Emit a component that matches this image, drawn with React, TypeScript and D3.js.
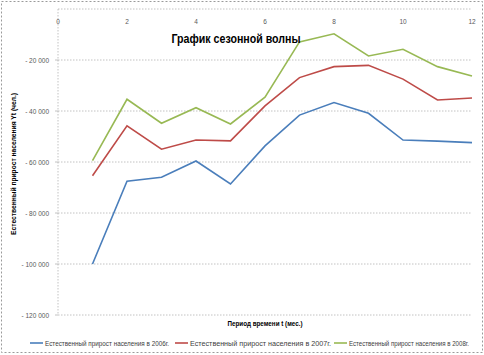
import React from "react";
import * as d3 from "d3";

const months = [1, 2, 3, 4, 5, 6, 7, 8, 9, 10, 11, 12];
const s2006 = [-100000, -67500, -66000, -59600, -68600, -53700, -41600, -36700, -40900, -51400, -51800, -52400];
const s2007 = [-65400, -45800, -55000, -51400, -51700, -38000, -26900, -22600, -22100, -27500, -35700, -34900];
const s2008 = [-59500, -35400, -44800, -38700, -45100, -34600, -12900, -9700, -18400, -15800, -22600, -26300];
const xTicks = [0, 2, 4, 6, 8, 10, 12];
const yTicks = [0, -20000, -40000, -60000, -80000, -100000, -120000];
const seriesNames = [
  "Естественный прирост населения в 2006г.",
  "Естественный прирост населения в 2007г.",
  "Естественный прирост населения в 2008г.",
];
const colors = ["#4A7EBB", "#BE4B48", "#98B954"];

const W = 484;
const H = 355;

export default function App() {
  const x = d3.scaleLinear().domain([0, 12]).range([58, 472]);
  const y = d3.scaleLinear().domain([0, -120000]).range([9, 315]);
  const line = d3
    .line<number>()
    .x((_, i) => x(months[i]))
    .y((d) => y(d));
  const series = [s2006, s2007, s2008];
  const fmt = (v: number) =>
    "- " + d3.format(",")(Math.abs(v)).replace(/,/g, " ");
  const legendX = [30, 175, 334];
  const legendTextW = [124, 141, 120];
  const font = "'Liberation Sans', Arial, sans-serif";
  return (
    <svg
      width={W}
      height={H}
      style={{ position: "absolute", left: 0, top: 0, background: "#fff" }}
      fontFamily={font}
    >
      <rect x={1.5} y={1.5} width={W - 3} height={H - 4} fill="#fff" stroke="#9a9a9a" strokeDasharray="2,2" />
      {yTicks.map((t) => (
        <line key={"g" + t} x1={x(0)} x2={x(12)} y1={y(t)} y2={y(t)} stroke="#b3b3b3" strokeWidth={0.8} strokeDasharray="1.5,1.5" />
      ))}
      <line x1={x(0)} x2={x(0)} y1={y(0)} y2={y(-120000)} stroke="#b3b3b3" strokeWidth={0.8} strokeDasharray="1.5,1.5" />
      {yTicks.slice(1).map((t) => (
        <g key={"yl" + t}>
          <line x1={x(0) - 3} x2={x(0)} y1={y(t)} y2={y(t)} stroke="#b3b3b3" strokeWidth={0.8} />
          <text x={49} y={y(t) + 2.5} fontSize={6.5} fill="#595959" textAnchor="end">
            {fmt(t)}
          </text>
        </g>
      ))}
      {xTicks.map((t) => (
        <text key={"xl" + t} x={x(t)} y={24} fontSize={6.5} fill="#595959" textAnchor="middle">
          {t}
        </text>
      ))}
      {series.map((s, i) => (
        <path key={"s" + i} d={line(s) || ""} fill="none" stroke={colors[i]} strokeWidth={1.6} />
      ))}
      <text x={236} y={43} fontSize={12} fontWeight="bold" fill="#000" textAnchor="middle" textLength={129} lengthAdjust="spacingAndGlyphs">
        График сезонной волны
      </text>
      <text
        transform={`translate(16,164) rotate(-90)`}
        fontSize={6.5}
        fontWeight="bold"
        fill="#000"
        textAnchor="middle"
        textLength={142}
        lengthAdjust="spacingAndGlyphs"
      >
        Естественный прирост населения Yt (чел.)
      </text>
      <text x={265} y={326} fontSize={6.5} fontWeight="bold" fill="#000" textAnchor="middle" textLength={75} lengthAdjust="spacingAndGlyphs">
        Период времени t (мес.)
      </text>
      {seriesNames.map((n, i) => (
        <g key={"lg" + i}>
          <line x1={legendX[i]} x2={legendX[i] + 13} y1={343} y2={343} stroke={colors[i]} strokeWidth={1.6} />
          <text x={legendX[i] + 15} y={345.5} fontSize={6.5} fill="#404040" textLength={legendTextW[i]} lengthAdjust="spacingAndGlyphs">
            {n}
          </text>
        </g>
      ))}
    </svg>
  );
}
